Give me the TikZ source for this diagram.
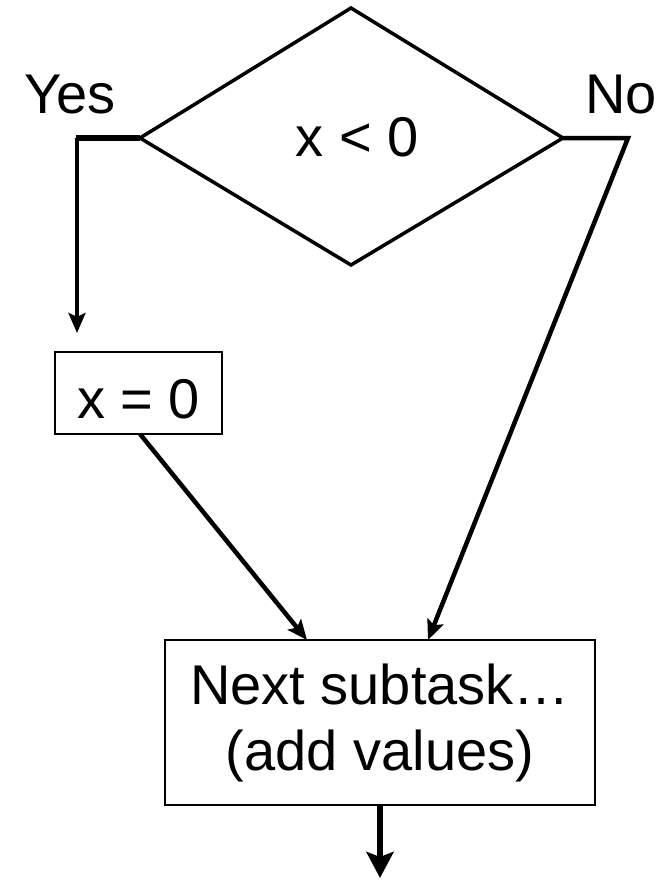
\documentclass[tikz,border=0pt]{standalone}
\usepackage{fontspec}
\setmainfont{Liberation Sans}
\usetikzlibrary{arrows.meta,calc}
\begin{document}
\begin{tikzpicture}[x=1pt,y=-1pt,
  lbl/.style={font=\fontsize{56}{66}\selectfont, inner sep=0pt},
  boxnode/.style={draw, line width=2pt, inner sep=0pt, align=center, font=\fontsize{56}{66}\selectfont},
  flow/.style={line width=4.5pt, line join=miter, -{Stealth[length=20pt,width=17pt,inset=4pt]}},
  bigflow/.style={line width=6.5pt, -{Stealth[length=26pt,width=27pt,inset=5pt]}},
  decision/.style={line width=3.5pt, line join=miter}]
\useasboundingbox (0,0) rectangle (666,880);
% diamond
\coordinate (dt) at (351,8);
\coordinate (dl) at (140,138);
\coordinate (dr) at (563,138);
\coordinate (db) at (351,265);
\draw[decision] (dt) -- (dr) -- (db) -- (dl) -- cycle;
\node[lbl] (cond) at (357,137) {x < 0};
% labels
\node[lbl] (yes) at (70,95) {Yes};
\node[lbl] (no) at (621,95) {No};
% boxes
\node[boxnode, minimum width=167pt, minimum height=82pt, text height=50pt, text depth=0pt] (set) at (138.5,393) {x = 0};
\node[boxnode, minimum width=430pt, minimum height=165pt] (next) at (380,722.5) {Next subtask\char"2026\\(add values)};
% coordinates for connectors
\coordinate (ycorner) at (77,138);
\coordinate (yend) at (77,333);
\coordinate (ncorner) at (628,138);
\coordinate (setout) at (140,434);
\coordinate (nextinL) at (307,640);
\coordinate (nextinR) at (428,640);
\coordinate (outend) at (380,878);
% connectors
\draw[line width=6.5pt] (dl) -- ($(ycorner)+(-1.5,0)$);
\draw[flow] (ycorner) -- (yend);
\draw[flow] (dr) -- (ncorner) -- (nextinR);
\draw[flow] (setout) -- (nextinL);
\draw[bigflow] (next.south) -- (outend);
\end{tikzpicture}
\end{document}
